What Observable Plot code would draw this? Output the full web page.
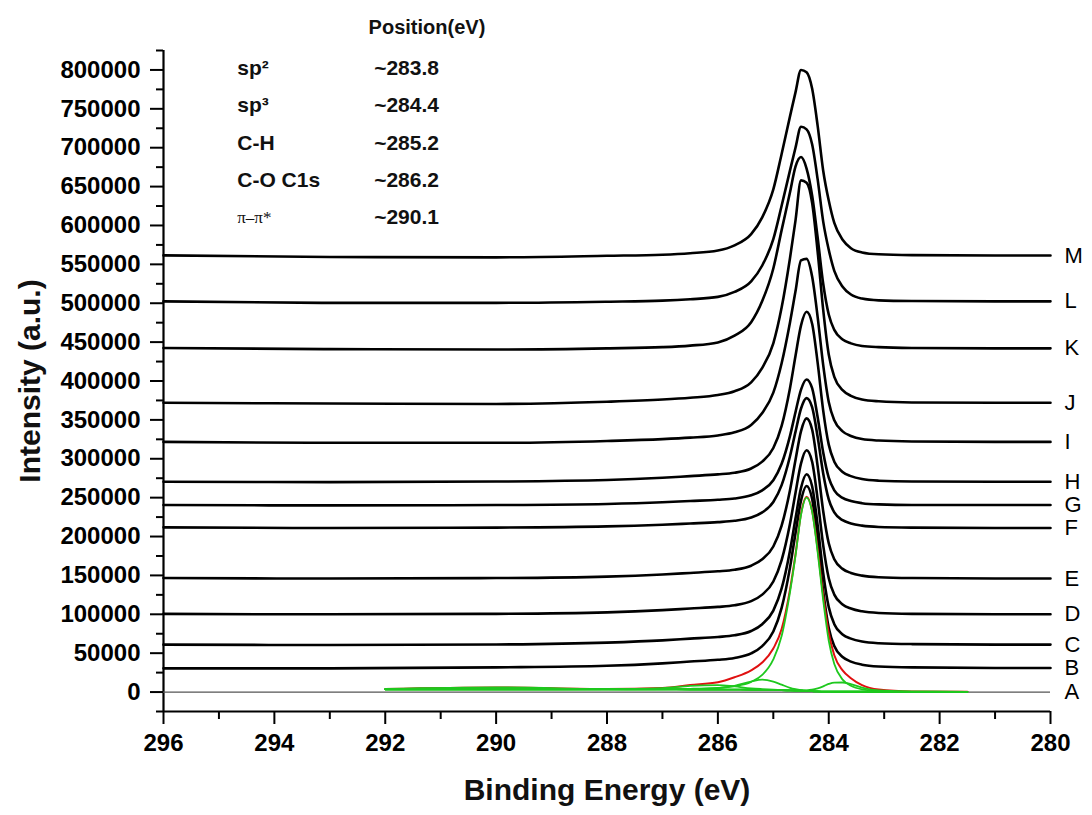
<!DOCTYPE html>
<html><head><meta charset="utf-8">
<script src="https://cdn.jsdelivr.net/npm/d3@7"></script>
<script src="https://cdn.jsdelivr.net/npm/@observablehq/plot@0.6"></script>
<style>
body{margin:0;background:#fff;}
#chart svg{display:block;}
</style></head><body><div id="chart"></div>
<script>
// ---- data ----
const energyGrid = [296, 293, 290, 288, 287, 286.5, 286, 285.7, 285.4, 285.2, 285.0, 284.85, 284.7, 284.6, 284.5, 284.4, 284.3, 284.2, 284.1, 284.0, 283.9, 283.75, 283.6, 283.4, 283.1, 282.5, 281, 280];
const sampleLabels = ["A","B","C","D","E","F","G","H","I","J","K","L","M"];
const seriesM = [561500, 559500, 559000, 561000, 562400, 564300, 567700, 574400, 588800, 610400, 646400, 692000, 740000, 771200, 800000, 797000, 776000, 728000, 670400, 632000, 603200, 581600, 570800, 565300, 562900, 561900, 561400, 561400];
const seriesL = [502400, 500500, 500500, 502000, 503300, 505100, 508200, 514600, 528100, 548500, 582400, 625300, 670500, 699900, 727000, 723600, 704400, 659200, 605000, 568800, 541700, 521300, 511200, 506000, 503700, 502800, 502400, 502400];
const seriesK = [442500, 441000, 440500, 442000, 443500, 445500, 449600, 458300, 475600, 502800, 544700, 594000, 642300, 675700, 688000, 673200, 638600, 584300, 525000, 485500, 465700, 453400, 448400, 445000, 443500, 442500, 442000, 442000];
const seriesJ = [372000, 371000, 370500, 373300, 376200, 378500, 381900, 386800, 398300, 416900, 448500, 494400, 557600, 606300, 658000, 655000, 629300, 566200, 491500, 434100, 405400, 388200, 381000, 376200, 373900, 372400, 372000, 372000];
const seriesI = [321700, 320500, 320500, 322900, 325300, 327200, 330000, 334000, 343500, 358900, 385000, 422900, 475000, 515300, 555000, 557000, 534300, 482200, 420500, 373100, 349400, 335200, 329300, 325300, 323400, 322200, 321700, 321700];
const seriesH = [270500, 270000, 270700, 272600, 275500, 277700, 279900, 282000, 287500, 296300, 313800, 342300, 390500, 432100, 471500, 489000, 473700, 423300, 362000, 318200, 296300, 283100, 277700, 273900, 271800, 270700, 270500, 270500];
const seriesG = [240500, 240000, 240500, 241900, 244000, 245700, 247300, 248900, 253000, 259400, 272400, 293500, 329100, 359900, 389000, 402000, 390700, 353400, 308000, 275600, 259400, 249700, 245700, 242900, 241300, 240500, 240500, 240500];
const seriesF = [211800, 211000, 211500, 213000, 215200, 216800, 218500, 220200, 224400, 231000, 244400, 266100, 302900, 334600, 364600, 378000, 366300, 327900, 281100, 247700, 231000, 221000, 216800, 214000, 212300, 211500, 211000, 211000];
const seriesE = [146600, 146000, 146600, 148500, 151200, 153200, 155300, 157300, 162500, 170700, 187200, 214000, 259300, 298400, 335500, 352000, 337600, 290200, 232500, 191300, 170700, 158400, 153200, 149700, 147600, 146600, 146000, 146000];
const seriesD = [100500, 100000, 100600, 102500, 105300, 107400, 109500, 111600, 116900, 125300, 142200, 169600, 216000, 256100, 294100, 311000, 296200, 247700, 188600, 146400, 125300, 112700, 107400, 103800, 101700, 100600, 100000, 100000];
const seriesC = [61000, 60500, 61200, 63600, 66500, 68700, 70900, 73000, 78500, 87300, 104800, 133300, 181500, 223100, 262500, 280000, 264700, 214300, 153000, 109200, 87300, 74100, 68700, 64900, 62800, 61700, 61000, 61000];
const seriesB = [30500, 30500, 31700, 33800, 36900, 39200, 41500, 43900, 49700, 59100, 77800, 108200, 159700, 204200, 246300, 265000, 248600, 194800, 129300, 82500, 59100, 45000, 39200, 35200, 32900, 31700, 31000, 31000];
const seriesA = [0, 0, 0, 0, 0, 0, 0, 0, 0, 0, 0, 0, 0, 0, 0, 0, 0, 0, 0, 0, 0, 0, 0, 0, 0, 0, 0, 0];

// peak fit of sample A
const fitEnergy = [292, 290, 288, 287, 286.5, 286, 285.7, 285.4, 285.2, 285.0, 284.85, 284.7, 284.6, 284.5, 284.4, 284.3, 284.2, 284.1, 284.0, 283.9, 283.75, 283.6, 283.4, 283.1, 282.5, 281.5];
const fitBackground = [3500, 3500, 3500, 3400, 3300, 3200, 3100, 3000, 2900, 2700, 2500, 2200, 2000, 1700, 1400, 1100, 800, 600, 500, 400, 400, 400, 400, 300, 300, 300];
const fitMain = [3500, 3500, 3600, 3800, 4200, 5500, 7500, 13000, 22000, 42000, 72000, 128000, 175000, 228000, 250000, 232000, 180000, 118000, 66000, 36000, 16000, 8000, 3500, 1500, 600, 300];
const fitCH = [3500, 3500, 3500, 3500, 3800, 5000, 8000, 13500, 15900, 13500, 9500, 5500, 3800, 2600, 1800, 1300, 900, 600, 500, 400, 400, 400, 400, 300, 300, 300];
const fitSp2 = [3500, 3500, 3500, 3400, 3300, 3200, 3100, 3000, 2900, 2700, 2500, 2200, 2000, 2000, 2200, 3000, 4800, 7400, 10500, 12200, 12300, 10200, 5800, 2000, 500, 300];
const fitCO = [3500, 3500, 3700, 5000, 8000, 9000, 7200, 4800, 3900, 3200, 2600, 2200, 2000, 1700, 1400, 1100, 800, 600, 500, 400, 400, 400, 400, 300, 300, 300];
const fitPiPi = [4000, 6000, 3800, 3400, 3300, 3200, 3100, 3000, 2900, 2700, 2500, 2200, 2000, 1700, 1400, 1100, 800, 600, 500, 400, 400, 400, 400, 300, 300, 300];
const fitEnvelope = [4000, 6000, 4000, 5300, 9000, 12500, 19000, 28000, 38000, 56000, 81000, 131500, 177000, 229500, 251000, 233000, 183400, 124400, 76000, 47400, 27900, 17800, 8900, 3200, 800, 300];

// legend table
const legendNames = ["sp\u00B2", "sp\u00B3", "C-H", "C-O C1s", "\u03C0\u2013\u03C0*"];
const legendPositions = ["~283.8", "~284.4", "~285.2", "~286.2", "~290.1"];

// axes
const xTicks = [296, 294, 292, 290, 288, 286, 284, 282, 280];
const xMinorTicks = [295, 293, 291, 289, 287, 285, 283, 281];
const yTicks = [0, 50000, 100000, 150000, 200000, 250000, 300000, 350000, 400000, 450000, 500000, 550000, 600000, 650000, 700000, 750000, 800000];
const yMinorTicks = [-25000, 25000, 75000, 125000, 175000, 225000, 275000, 325000, 375000, 425000, 475000, 525000, 575000, 625000, 675000, 725000, 775000, 825000];

// ---- build tables ----
const seriesByLabel = {A: seriesA, B: seriesB, C: seriesC, D: seriesD, E: seriesE, F: seriesF, G: seriesG, H: seriesH, I: seriesI, J: seriesJ, K: seriesK, L: seriesL, M: seriesM};
const spectra = [];
for (const lab of sampleLabels.slice(1)) {
  seriesByLabel[lab].forEach((v, i) => spectra.push({label: lab, be: energyGrid[i], intensity: v}));
}
const labelRows = sampleLabels.map(lab => ({label: lab, intensity: seriesByLabel[lab][seriesByLabel[lab].length - 1]}));

const fitComponents = {bg: fitBackground, main: fitMain, ch: fitCH, sp2: fitSp2, co: fitCO, pipi: fitPiPi};
const greenRows = [];
for (const [k, arr] of Object.entries(fitComponents)) arr.forEach((v, i) => greenRows.push({comp: k, be: fitEnergy[i], intensity: v}));
const envelopeRows = fitEnvelope.map((v, i) => ({be: fitEnergy[i], intensity: v}));

const legendRows = legendNames.map((n, i) => ({name: n, pos: legendPositions[i], i}));

const font = "'Liberation Sans', Arial, Helvetica, sans-serif";

const chart = Plot.plot({
  width: 1092,
  height: 815,
  marginLeft: 163,
  marginRight: 42,
  marginTop: 50,
  marginBottom: 104,
  style: {fontFamily: font, background: "white", overflow: "visible", color: "black"},
  x: {domain: [296, 280], label: null},
  y: {domain: [-25000, 825000], label: null},
  marks: [
    // axes
    Plot.axisY(yTicks, {tickSize: 13, tickPadding: 10, fontSize: 24, fontWeight: "bold", strokeWidth: 2, tickFormat: d => String(d), label: null}),
    Plot.axisY(yMinorTicks, {tickSize: 7, strokeWidth: 2, tickFormat: () => "", label: null}),
    Plot.axisX(xTicks, {tickSize: 13, tickPadding: 9, fontSize: 24, fontWeight: "bold", strokeWidth: 2, tickFormat: d => String(d), label: null}),
    Plot.axisX(xMinorTicks, {tickSize: 8, strokeWidth: 2, tickFormat: () => "", label: null}),
    Plot.ruleX([296], {strokeWidth: 2.2}),
    Plot.ruleY([-25000], {strokeWidth: 2.2}),
    // sample A zero line
    Plot.ruleY([0], {stroke: "#555", strokeWidth: 1.2}),
    // spectra B..M
    Plot.line(spectra, {x: "be", y: "intensity", z: "label", stroke: "black", strokeWidth: 2.6, curve: "monotone-x"}),
    // fit of A
    Plot.line(envelopeRows, {x: "be", y: "intensity", stroke: "#e01010", strokeWidth: 2, curve: "monotone-x"}),
    Plot.line(greenRows, {x: "be", y: "intensity", z: "comp", stroke: "#1ec81e", strokeWidth: 1.8, curve: "monotone-x"}),
    // right-side sample labels
    Plot.text(labelRows, {x: 280, y: "intensity", text: "label", textAnchor: "start", dx: 14, fontSize: 22, fill: "black"}),
    // legend table
    Plot.text(["Position(eV)"], {x: 292.3, y: 854600, textAnchor: "start", fontSize: 20, fontWeight: "bold", fill: "#111"}),
    Plot.text(legendRows.filter(d => d.i < 4), {x: 294.67, y: d => 802000 - d.i * 48000, text: "name", textAnchor: "start", fontSize: 21, fontWeight: "bold", fill: "#111"}),
    Plot.text(legendRows.filter(d => d.i === 4), {x: 294.67, y: d => 802000 - d.i * 48000, text: "name", textAnchor: "start", fontSize: 17, fontFamily: "'Liberation Serif', 'DejaVu Serif', serif", fill: "#111"}),
    Plot.text(legendRows, {x: 292.2, y: d => 802000 - d.i * 48000, text: "pos", textAnchor: "start", fontSize: 21, fontWeight: "bold", fill: "#111"}),
    // axis titles
    Plot.text(["Binding Energy (eV)"], {frameAnchor: "bottom", dy: 88, fontSize: 30, fontWeight: "bold", fill: "#111"}),
    Plot.text(["Intensity (a.u.)"], {x: () => 296, y: () => 400000, dx: -133, rotate: -90, fontSize: 30, fontWeight: "bold", fill: "#111"})
  ]
});
document.getElementById("chart").appendChild(chart);
</script>
</body></html>
